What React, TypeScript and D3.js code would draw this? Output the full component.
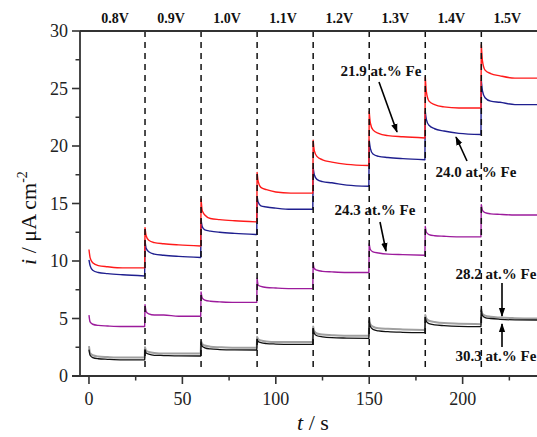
import React from "react";
import * as d3 from "d3";

const W = 537;
const H = 437;
const M = { left: 80, top: 31, right: 537, bottom: 376 };

const voltages = ["0.8V", "0.9V", "1.0V", "1.1V", "1.2V", "1.3V", "1.4V", "1.5V"];
const stepStarts = [0, 30, 60, 90, 120, 150, 180, 210];
const stepLength = 30;
const sampleOffsets = [0, 0.6, 2, 5, 10, 18, 29.8];
const xTicks = [0, 50, 100, 150, 200];
const xMinor = [25, 75, 125, 175, 225];
const yTicks = [0, 5, 10, 15, 20, 25, 30];
const yMinor = [2.5, 7.5, 12.5, 17.5, 22.5, 27.5];

const red219 = [
  [11.0, 10.3, 9.85, 9.6, 9.5, 9.4, 9.4],
  [12.9, 12.2, 11.8, 11.6, 11.5, 11.4, 11.3],
  [15.4, 14.4, 14.0, 13.7, 13.6, 13.5, 13.4],
  [17.7, 16.9, 16.4, 16.2, 16.0, 15.9, 15.9],
  [20.5, 19.6, 19.1, 18.8, 18.6, 18.4, 18.3],
  [23.0, 22.0, 21.4, 21.1, 20.9, 20.8, 20.7],
  [26.0, 24.7, 23.9, 23.6, 23.4, 23.3, 23.3],
  [28.8, 27.4, 26.6, 26.3, 26.1, 25.9, 25.9],
];
const blue240 = [
  [10.1, 9.6, 9.2, 9.0, 8.9, 8.8, 8.7],
  [11.8, 11.1, 10.8, 10.6, 10.5, 10.4, 10.3],
  [13.6, 13.0, 12.7, 12.6, 12.5, 12.4, 12.3],
  [15.6, 15.1, 14.8, 14.7, 14.6, 14.5, 14.5],
  [18.1, 17.5, 17.1, 16.9, 16.8, 16.6, 16.5],
  [20.5, 19.8, 19.3, 19.1, 19.0, 18.9, 18.8],
  [23.0, 22.3, 21.8, 21.5, 21.3, 21.1, 21.0],
  [25.7, 24.8, 24.2, 23.9, 23.8, 23.6, 23.6],
];
const purple243 = [
  [5.3, 4.7, 4.5, 4.4, 4.35, 4.3, 4.3],
  [6.2, 5.6, 5.4, 5.3, 5.3, 5.2, 5.2],
  [7.3, 6.8, 6.6, 6.5, 6.45, 6.4, 6.4],
  [8.5, 7.9, 7.8, 7.7, 7.65, 7.6, 7.6],
  [9.8, 9.35, 9.2, 9.1, 9.05, 9.0, 9.0],
  [11.5, 11.0, 10.8, 10.7, 10.6, 10.55, 10.5],
  [13.0, 12.5, 12.3, 12.2, 12.15, 12.1, 12.1],
  [14.9, 14.4, 14.2, 14.1, 14.05, 14.0, 14.0],
];
const gray282 = [
  [2.6, 2.0, 1.8, 1.7, 1.65, 1.6, 1.6],
  [2.5, 2.2, 2.1, 2.0, 1.95, 1.95, 1.95],
  [3.0, 2.8, 2.65, 2.55, 2.5, 2.45, 2.45],
  [3.4, 3.2, 3.1, 3.0, 2.95, 2.95, 2.95],
  [4.3, 3.9, 3.7, 3.6, 3.55, 3.5, 3.5],
  [5.0, 4.5, 4.3, 4.15, 4.1, 4.05, 4.0],
  [5.3, 5.0, 4.8, 4.7, 4.6, 4.55, 4.5],
  [5.8, 5.4, 5.25, 5.15, 5.08, 5.03, 5.0],
];
const black303 = [
  [2.3, 1.8, 1.6, 1.5, 1.45, 1.4, 1.4],
  [2.3, 2.0, 1.9, 1.8, 1.78, 1.75, 1.74],
  [2.9, 2.6, 2.45, 2.35, 2.3, 2.27, 2.26],
  [3.2, 3.0, 2.9, 2.82, 2.78, 2.75, 2.75],
  [4.1, 3.7, 3.5, 3.4, 3.33, 3.3, 3.28],
  [4.8, 4.3, 4.05, 3.92, 3.85, 3.8, 3.77],
  [5.1, 4.75, 4.55, 4.45, 4.38, 4.32, 4.3],
  [5.7, 5.25, 5.08, 5.0, 4.93, 4.88, 4.87],
];

const series = [
  { name: "30.3 at.% Fe", data: gray282, color: "#a0a0a0", width: 2.0 },
  { name: "28.2 at.% Fe", data: black303, color: "#111111", width: 1.3 },
  { name: "24.3 at.% Fe", data: purple243, color: "#9c1b9c", width: 1.4 },
  { name: "24.0 at.% Fe", data: blue240, color: "#1f1f8f", width: 1.4 },
  { name: "21.9 at.% Fe", data: red219, color: "#ff1a1a", width: 1.4 },
];

const annotations = [
  { text: "21.9 at.% Fe", tx: 381, ty: 76, x1: 379, y1: 82, x2: 397, y2: 132 },
  { text: "24.0 at.% Fe", tx: 476, ty: 177, x1: 467, y1: 161, x2: 456, y2: 137 },
  { text: "24.3 at.% Fe", tx: 375, ty: 215, x1: 380, y1: 222, x2: 386, y2: 251 },
  { text: "28.2 at.% Fe", tx: 496, ty: 279, x1: 502, y1: 283, x2: 502, y2: 316 },
  { text: "30.3 at.% Fe", tx: 496, ty: 361, x1: 502, y1: 347, x2: 502, y2: 324 },
];

const serif = { fontFamily: "'Liberation Serif', 'Times New Roman', Times, serif" };

export default function App() {
  const x = d3.scaleLinear().domain([-4.8, 239.8]).range([M.left, M.right]);
  const y = d3.scaleLinear().domain([0, 30]).range([M.bottom, M.top]);

  const seg = d3
    .line<[number, number]>()
    .x((d) => x(d[0]))
    .y((d) => y(d[1]))
    .curve(d3.curveMonotoneX);

  const buildPath = (data: number[][]) =>
    data
      .map((vals, k) => {
        const pts: [number, number][] = vals.map((v, i) => [stepStarts[k] + sampleOffsets[i], v]);
        const p = seg(pts) || "";
        return k === 0 ? p : "L" + p.slice(1);
      })
      .join("");

  const axisColor = "#333";

  return (
    <svg width={W} height={H} style={{ display: "block", position: "absolute", left: 0, top: 0 }}>
      <defs>
        <clipPath id="plot">
          <rect x={M.left} y={M.top} width={M.right - M.left} height={M.bottom - M.top} />
        </clipPath>
        <marker id="arr" viewBox="0 0 10 10" refX="9" refY="5" markerWidth="9" markerHeight="9" markerUnits="userSpaceOnUse" orient="auto">
          <path d="M0,1.5 L10,5 L0,8.5 Z" fill="#000" />
        </marker>
      </defs>
      <rect x={0} y={0} width={W} height={H} fill="#fff" />

      {voltages.map((v, i) => (
        <text key={v} x={x(stepStarts[i] + stepLength / 2) - 2} y={23} textAnchor="middle" fontWeight="bold" fontSize={14} fill="#111" style={serif}>
          {v}
        </text>
      ))}

      <g clipPath="url(#plot)">
        {series.map((s) => (
          <path key={s.name} d={buildPath(s.data)} fill="none" stroke={s.color} strokeWidth={s.width} strokeLinejoin="round" />
        ))}
      </g>

      {stepStarts.slice(1).map((t) => (
        <line key={t} x1={x(t)} x2={x(t)} y1={M.top} y2={M.bottom - 5} stroke="#111" strokeWidth={1.5} strokeDasharray="6,5" />
      ))}

      {annotations.map((a) => (
        <g key={a.text}>
          <text x={a.tx} y={a.ty} textAnchor="middle" fontWeight="bold" fontSize={15} fill="#111" style={serif}>
            {a.text}
          </text>
          <line x1={a.x1} y1={a.y1} x2={a.x2} y2={a.y2} stroke="#000" strokeWidth={1.6} markerEnd="url(#arr)" />
        </g>
      ))}

      <line x1={M.left} x2={M.right} y1={M.top} y2={M.top} stroke={axisColor} strokeWidth={1.8} />
      <line x1={M.left} x2={M.left} y1={M.top} y2={M.bottom} stroke={axisColor} strokeWidth={1.8} />
      <line x1={M.left - 8} x2={M.right} y1={M.bottom} y2={M.bottom} stroke={axisColor} strokeWidth={1.8} />

      {yTicks.map((t) => (
        <g key={"y" + t}>
          <line x1={M.left - 8} x2={M.left} y1={y(t)} y2={y(t)} stroke={axisColor} strokeWidth={1.6} />
          <text x={M.left - 12} y={y(t) + 6} textAnchor="end" fontSize={18} fill="#222" style={serif}>
            {t}
          </text>
        </g>
      ))}
      {yMinor.map((t) => (
        <line key={"ym" + t} x1={M.left - 4.5} x2={M.left} y1={y(t)} y2={y(t)} stroke={axisColor} strokeWidth={1.5} />
      ))}
      {xTicks.map((t) => (
        <g key={"x" + t}>
          <line x1={x(t)} x2={x(t)} y1={M.bottom} y2={M.bottom + 8} stroke={axisColor} strokeWidth={1.6} />
          <text x={x(t)} y={405} textAnchor="middle" fontSize={18} fill="#222" style={serif}>
            {t}
          </text>
        </g>
      ))}
      {xMinor.map((t) => (
        <line key={"xm" + t} x1={x(t)} x2={x(t)} y1={M.bottom} y2={M.bottom + 4.5} stroke={axisColor} strokeWidth={1.5} />
      ))}

      <text x={313} y={430} textAnchor="middle" fontSize={22} fill="#111" style={serif}>
        <tspan fontStyle="italic">t</tspan> / s
      </text>
      <text transform="translate(36,218) rotate(-90)" textAnchor="middle" fontSize={22} fill="#111" style={serif}>
        <tspan fontStyle="italic">i</tspan> / μA cm
        <tspan dy={-9} fontSize={14}>-2</tspan>
      </text>
    </svg>
  );
}
